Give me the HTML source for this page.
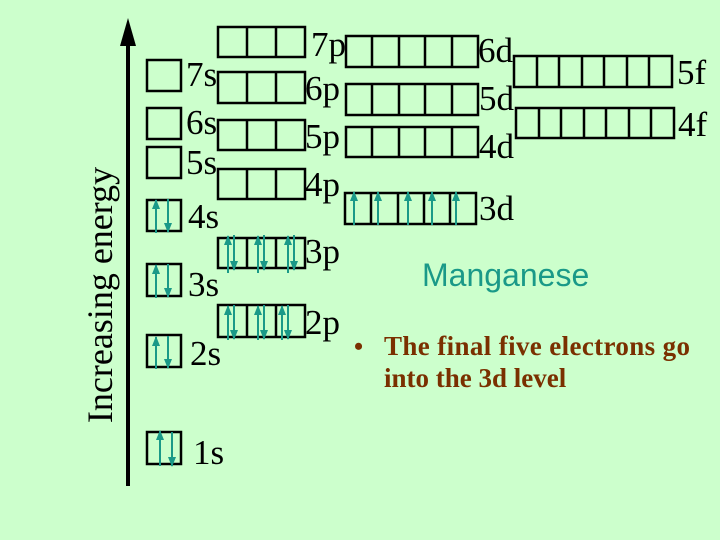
<!DOCTYPE html>
<html><head><meta charset="utf-8"><style>
html,body{margin:0;padding:0;background:#ccffcc;}
svg{display:block}
.l{font-family:"Liberation Serif",serif;font-size:35px;fill:#000}
</style></head><body>
<svg width="720" height="540" viewBox="0 0 720 540" xmlns="http://www.w3.org/2000/svg">
<defs>
<marker id="u" markerWidth="10" markerHeight="8" refX="9" refY="4" orient="auto" markerUnits="userSpaceOnUse"><path d="M0,0 L10,4 L0,8 Z" fill="#1a9988"/></marker>
</defs>
<rect width="720" height="540" fill="#ccffcc"/>
<line x1="128" y1="486" x2="128" y2="40" stroke="#000" stroke-width="4"/>
<polygon points="120,46 128,18 136,46" fill="#000"/>
<text class="l" transform="translate(112,295) rotate(-90)" text-anchor="middle" style="font-size:36px">Increasing energy</text>

<g fill="none" stroke="#000" stroke-width="2.5">
<rect x="147" y="60" width="34" height="31"/>
<rect x="147" y="108" width="34" height="31"/>
<rect x="147" y="147" width="34" height="31"/>
<rect x="147" y="200" width="34" height="31"/>
<rect x="147" y="264" width="34" height="32"/>
<rect x="147" y="335" width="34" height="32"/>
<rect x="147" y="432" width="34" height="32"/>
<rect x="218" y="27" width="87" height="30"/><path d="M247,27V57M276,27V57"/>
<rect x="218" y="72" width="87" height="31"/><path d="M247,72V103M276,72V103"/>
<rect x="218" y="120" width="87" height="30"/><path d="M247,120V150M276,120V150"/>
<rect x="218" y="169" width="87" height="30"/><path d="M247,169V199M276,169V199"/>
<rect x="218" y="238" width="87" height="30"/><path d="M247,238V268M276,238V268"/>
<rect x="218" y="305" width="87" height="32"/><path d="M247,305V337M276,305V337"/>
<rect x="346" y="36" width="132" height="31"/><path d="M372,36V67M399,36V67M425,36V67M452,36V67"/>
<rect x="346" y="84" width="132" height="31"/><path d="M372,84V115M399,84V115M425,84V115M452,84V115"/>
<rect x="346" y="127" width="132" height="30"/><path d="M372,127V157M399,127V157M425,127V157M452,127V157"/>
<rect x="345" y="193" width="131" height="31"/><path d="M371,193V224M398,193V224M424,193V224M450,193V224"/>
<rect x="514" y="56" width="158" height="31"/><path d="M537,56V87M559,56V87M582,56V87M604,56V87M627,56V87M649,56V87"/>
<rect x="516" y="108" width="158" height="30"/><path d="M539,108V138M561,108V138M584,108V138M606,108V138M629,108V138M651,108V138"/>
</g>

<g stroke="#1a9988" stroke-width="2" fill="#1a9988">
<g marker-end="url(#u)">
<line x1="156" y1="233" x2="156" y2="200"/>
<line x1="156" y1="298" x2="156" y2="265"/>
<line x1="156" y1="369" x2="156" y2="337"/>
<line x1="160" y1="466" x2="160" y2="431"/>
<line x1="228" y1="273" x2="228" y2="236"/>
<line x1="258" y1="273" x2="258" y2="236"/>
<line x1="288" y1="273" x2="288" y2="236"/>
<line x1="228" y1="340" x2="228" y2="306"/>
<line x1="258" y1="340" x2="258" y2="306"/>
<line x1="282" y1="340" x2="282" y2="306"/>
<line x1="354" y1="225" x2="354" y2="192"/>
<line x1="378" y1="225" x2="378" y2="192"/>
<line x1="408" y1="225" x2="408" y2="192"/>
<line x1="432" y1="225" x2="432" y2="192"/>
<line x1="456" y1="225" x2="456" y2="192"/>
</g>
<g marker-end="url(#u)">
<line x1="168" y1="199" x2="168" y2="232"/>
<line x1="168" y1="264" x2="168" y2="297"/>
<line x1="168" y1="336" x2="168" y2="368"/>
<line x1="172" y1="432" x2="172" y2="466"/>
<line x1="234" y1="235" x2="234" y2="270"/>
<line x1="264" y1="235" x2="264" y2="270"/>
<line x1="294" y1="235" x2="294" y2="270"/>
<line x1="234" y1="305" x2="234" y2="339"/>
<line x1="264" y1="305" x2="264" y2="339"/>
<line x1="288" y1="305" x2="288" y2="339"/>
</g>
</g>

<text class="l" x="186" y="86">7s</text>
<text class="l" x="186" y="134">6s</text>
<text class="l" x="186" y="174">5s</text>
<text class="l" x="188" y="228">4s</text>
<text class="l" x="188" y="296">3s</text>
<text class="l" x="190" y="365">2s</text>
<text class="l" x="193" y="464">1s</text>
<text class="l" x="311" y="56">7p</text>
<text class="l" x="305" y="100">6p</text>
<text class="l" x="305" y="148">5p</text>
<text class="l" x="305" y="196">4p</text>
<text class="l" x="305" y="263">3p</text>
<text class="l" x="305" y="334">2p</text>
<text class="l" x="478" y="62">6d</text>
<text class="l" x="479" y="110">5d</text>
<text class="l" x="479" y="158">4d</text>
<text class="l" x="479" y="220">3d</text>
<text class="l" x="677" y="84">5f</text>
<text class="l" x="678" y="136">4f</text>

<text x="422" y="286" style="font-family:'Liberation Sans',sans-serif;font-size:32px;fill:#1a9988">Manganese</text>
<text x="354" y="355" style="font-family:'Liberation Serif',serif;font-size:26px;font-weight:bold;fill:#7a3000">•</text>
<text x="384" y="355" style="font-family:'Liberation Serif',serif;font-size:27px;font-weight:bold;fill:#7a3000" textLength="306">The final five electrons go</text>
<text x="384" y="387" style="font-family:'Liberation Serif',serif;font-size:27px;font-weight:bold;fill:#7a3000">into the 3d level</text>
</svg>
</body></html>
